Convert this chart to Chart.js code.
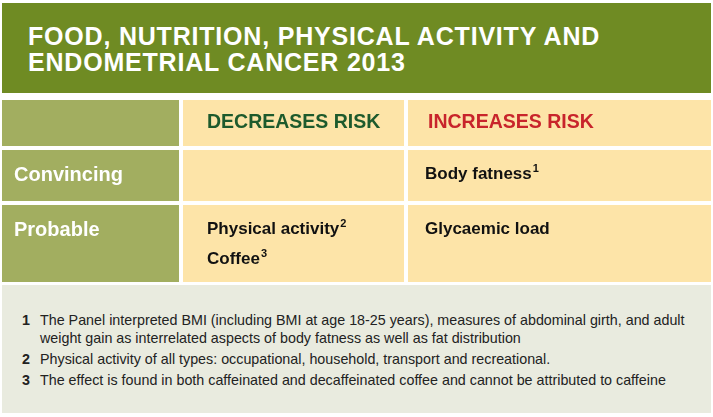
<!DOCTYPE html>
<html>
<head>
<meta charset="utf-8">
<script src="https://cdn.jsdelivr.net/npm/chart.js@4.4.0/dist/chart.umd.min.js"></script>
<style>
body { margin: 0; width: 713px; height: 417px; background: #fff; position: relative; overflow: hidden;
       font-family: "Liberation Sans", Arial, sans-serif; }
#title { position: absolute; left: 2px; top: 3px; width: 709px; height: 90px; background: #6f8b23;
         color: #fff; font-weight: bold; font-size: 25px; line-height: 26px; letter-spacing: 0.8px;
         box-sizing: border-box; padding: 20px 0 0 26px; }
#grid { position: absolute; left: 0; top: 98px; }
#notes { position: absolute; left: 2px; top: 285px; width: 709px; height: 128px; background: #e9ebdf;
         box-sizing: border-box; padding: 26px 0 0 0; color: #222; font-size: 14.3px; }
.note { position: relative; padding-left: 38px; width: 660px; line-height: 18px; margin-bottom: 3px; }
.note b { position: absolute; left: 20px; top: 0; }
</style>
</head>
<body>
<div id="title"></div>
<canvas id="grid" width="713" height="186"></canvas>
<div id="notes"></div>
<script>
// chart text
var titleLines = ["FOOD, NUTRITION, PHYSICAL ACTIVITY AND", "ENDOMETRIAL CANCER 2013"];
var columns = ["DECREASES RISK", "INCREASES RISK"];
var rows = ["Convincing", "Probable"];
// each item: [text, footnote number]
var decreases = [[], [["Physical activity", "2"], ["Coffee", "3"]]];
var increases = [[["Body fatness", "1"]], [["Glycaemic load", ""]]];
var footnotes = [
    "The Panel interpreted BMI (including BMI at age 18-25 years), measures of abdominal girth, and adult weight gain as interrelated aspects of body fatness as well as fat distribution",
    "Physical activity of all types: occupational, household, transport and recreational.",
    "The effect is found in both caffeinated and decaffeinated coffee and cannot be attributed to caffeine"
];

// layout of the grid (axis units = px inside the chart area)
var colWidths = [177, 221, 303];
var rowHeights = [46, 51, 77];
var gap = 4;
var olive = "#a2ae60";
var cream = "#fde4a8";
var headColors = ["#1d5a2c", "#c8242b"];
var textPad = [12, 24, 17];

document.getElementById("title").innerHTML = titleLines.join("<br>");
var notesEl = document.getElementById("notes");
footnotes.forEach(function (t, i) {
    var d = document.createElement("div");
    d.className = "note";
    d.innerHTML = "<b>" + (i + 1) + "</b>" + t;
    notesEl.appendChild(d);
});

function edges(sizes) {
    var out = [], pos = 0;
    for (var i = 0; i < sizes.length; i++) {
        out.push([pos, pos + sizes[i]]);
        pos += sizes[i] + gap;
    }
    return out;
}
var colEdges = edges(colWidths);
var rowEdges = edges(rowHeights);
var total = function (s) { return s.reduce(function (a, b) { return a + b; }, 0) + gap * (s.length - 1); };

function drawItem(ctx, item, px, py) {
    ctx.font = "bold 17px 'Liberation Sans', Arial, sans-serif";
    ctx.fillText(item[0], px, py);
    if (item[1]) {
        var w = ctx.measureText(item[0]).width;
        ctx.font = "bold 11px 'Liberation Sans', Arial, sans-serif";
        ctx.fillText(item[1], px + w + 1, py - 5);
    }
}

var tablePlugin = {
    id: "riskTable",
    beforeDatasetsDraw: function (chart) {
        var ctx = chart.ctx, xs = chart.scales.x, ys = chart.scales.y;
        ctx.save();
        ctx.textBaseline = "middle";
        for (var r = 0; r < rowEdges.length; r++) {
            var top = ys.getPixelForValue(rowEdges[r][0]);
            var bot = ys.getPixelForValue(rowEdges[r][1]);
            for (var c = 0; c < colEdges.length; c++) {
                var left = xs.getPixelForValue(colEdges[c][0]);
                var right = xs.getPixelForValue(colEdges[c][1]);
                ctx.fillStyle = c == 0 ? olive : cream;
                ctx.fillRect(left, top, right - left, bot - top);
                var tx = left + textPad[c];
                if (r == 0) {
                    if (c > 0) {
                        ctx.fillStyle = headColors[c - 1];
                        ctx.font = "bold 19.5px 'Liberation Sans', Arial, sans-serif";
                        ctx.fillText(columns[c - 1], tx + (c == 2 ? 3 : 0), (top + bot) / 2);
                    }
                } else if (c == 0) {
                    ctx.fillStyle = "#fff";
                    ctx.font = "bold 20px 'Liberation Sans', Arial, sans-serif";
                    ctx.fillText(rows[r - 1], tx, top + 25);
                } else {
                    var items = (c == 1 ? decreases : increases)[r - 1];
                    ctx.fillStyle = "#111";
                    items.forEach(function (it, k) {
                        drawItem(ctx, it, tx, top + 24 + k * 30);
                    });
                }
            }
        }
        ctx.restore();
    }
};

new Chart(document.getElementById("grid"), {
    type: "scatter",
    data: { datasets: [] },
    options: {
        responsive: false,
        animation: false,
        layout: { padding: { left: 2, right: 2, top: 2, bottom: 2 } },
        scales: {
            x: { type: "linear", display: false, min: 0, max: total(colWidths) },
            y: { type: "linear", display: false, min: 0, max: total(rowHeights), reverse: true }
        },
        plugins: { legend: { display: false }, tooltip: { enabled: false } }
    },
    plugins: [tablePlugin]
});
</script>
</body>
</html>
